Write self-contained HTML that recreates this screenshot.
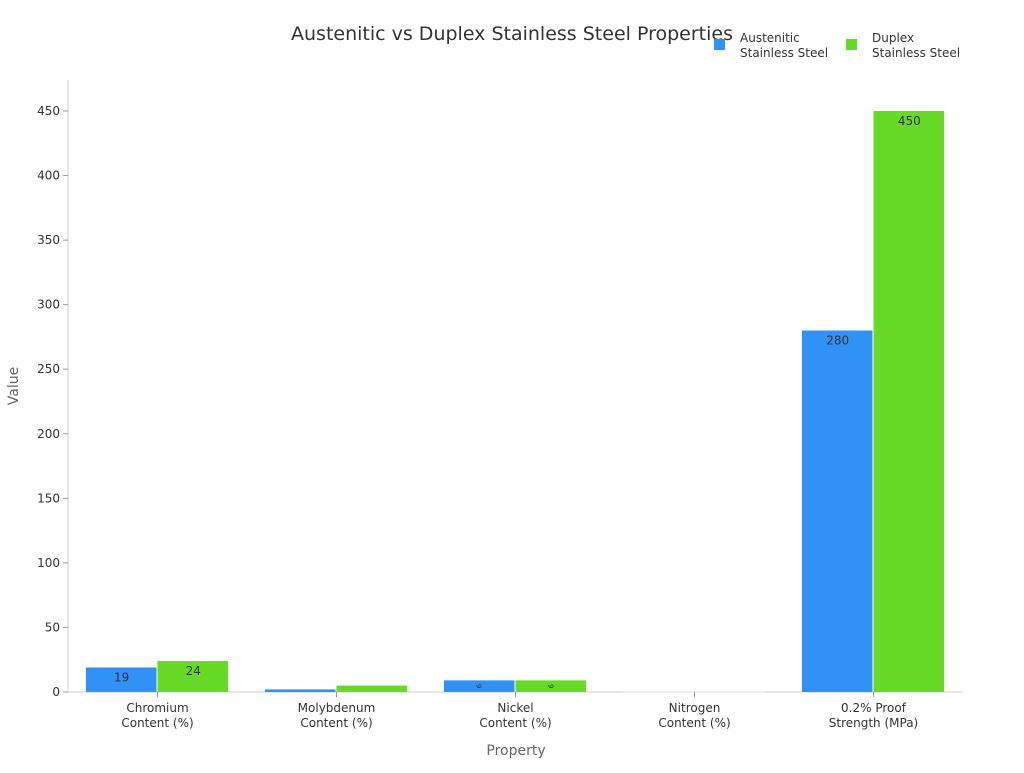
<!DOCTYPE html>
<html><head><meta charset="utf-8"><style>
body{margin:0;background:#fff;}
svg{font-family:"DejaVu Sans","Liberation Sans",sans-serif;}
</style></head><body>
<svg id="c" width="1024" height="768">
<text x="512" y="40" text-anchor="middle" font-size="19" fill="#333">Austenitic vs Duplex Stainless Steel Properties</text>
<g>
<rect x="714" y="39" width="11" height="11" fill="#3092f5"/>
<text x="740" y="42" font-size="12" fill="#333"><tspan x="740">Austenitic</tspan><tspan x="740" dy="15">Stainless Steel</tspan></text>
<rect x="846" y="39" width="11" height="11" fill="#66da26"/>
<text x="872" y="42" font-size="12" fill="#333"><tspan x="872">Duplex</tspan><tspan x="872" dy="15">Stainless Steel</tspan></text>
</g>
<text transform="translate(18,386) rotate(-90)" text-anchor="middle" font-size="14" fill="#666">Value</text>
<text x="516" y="755" text-anchor="middle" font-size="14" fill="#666">Property</text>
<g id="axes"></g><g id="bars"></g>
</svg>
<script>
const categories=[["Chromium","Content (%)"],["Molybdenum","Content (%)"],["Nickel","Content (%)"],["Nitrogen","Content (%)"],["0.2% Proof","Strength (MPa)"]];
const austenitic=[19,2,9,0.1,280];
const duplex=[24,5,9,0.2,450];
const yTicks=[0,50,100,150,200,250,300,350,400,450];
const X0=68,X1=963,Y0=692,Y450=111;
const y=v=>Y0-(v/450)*(Y0-Y450);
const band=(X1-X0)/categories.length;
const cx=i=>X0+band*(i+0.5);
const NS="http://www.w3.org/2000/svg";
const ax=document.getElementById('axes'),bg=document.getElementById('bars');
function mk(p,t,a){const e=document.createElementNS(NS,t);for(const k in a)e.setAttribute(k,a[k]);p.appendChild(e);return e;}
let l=mk(ax,'line',{x1:X0,x2:X0,y1:80,y2:Y0,stroke:'#ccc'});


l=mk(ax,'line',{x1:X0,x2:X1,y1:Y0,y2:Y0,stroke:'#ccc'});


yTicks.forEach(v=>{
 const t=mk(ax,'line',{x1:X0-5,x2:X0,y1:y(v),y2:y(v),stroke:'#999'});
 
 
 const tx=mk(ax,'text',{x:X0-8,y:y(v)+4,'text-anchor':'end','font-size':12,fill:'#333'});
 tx.textContent=v;
 
 
});
categories.forEach((c,i)=>{
 const t=mk(ax,'line',{x1:cx(i),x2:cx(i),y1:Y0,y2:Y0+5,stroke:'#999'});
 
 
 const tx=mk(ax,'text',{x:cx(i),y:712,'text-anchor':'middle','font-size':12,fill:'#333'});
 
 
 c.forEach((s,j)=>{const ts=mk(tx,'tspan',{x:cx(i),dy:j?15:0});ts.textContent=s;});
});
const bw=band*0.4;
[[austenitic,'#3092f5','austenitic',-1],[duplex,'#66da26','duplex',0]].forEach(([arr,col,nm,off])=>{
 arr.forEach((v,i)=>{
  const x=cx(i)+off*bw, top=y(v), h=Y0-top;
  const r=mk(bg,'rect',{x:x,y:top,width:bw-1,height:Math.max(h,0.5),fill:v<1?'#e8ecd8':col});
  
  
  if(h>20){
   const t=mk(bg,'text',{x:x+bw/2,y:top+14,'text-anchor':'middle','font-size':12,fill:'#333'});
   t.textContent=v;
   
   
  }else if(h>8){
   const t=mk(bg,'text',{transform:`translate(${x+bw/2-3},${top+h/2}) rotate(90)`,'text-anchor':'middle','font-size':7,fill:'#333'});
   t.textContent=v;
   
   
  }
 });
});
</script>
</body></html>
